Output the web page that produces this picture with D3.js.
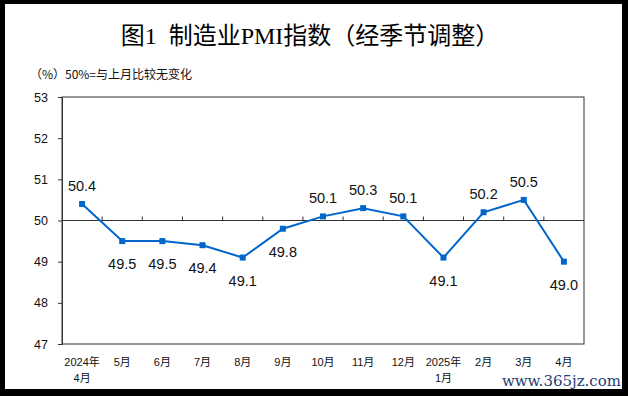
<!DOCTYPE html>
<html>
<head>
<meta charset="utf-8">
<script src="https://cdn.jsdelivr.net/npm/d3@7"></script>
<style>
  body { margin: 0; background: #000; }
  svg { display: block; }
</style>
</head>
<body>
<svg id="chart"></svg>
<script>
var months = ["2024年|4月", "5月", "6月", "7月", "8月", "9月", "10月", "11月", "12月", "2025年|1月", "2月", "3月", "4月"];
var pmiValues = [50.4, 49.5, 49.5, 49.4, 49.1, 49.8, 50.1, 50.3, 50.1, 49.1, 50.2, 50.5, 49.0];
var yTicks = [47, 48, 49, 50, 51, 52, 53];

var dimensions = {
  width: 628,
  height: 396,
  margin: { top: 97, bottom: 52, left: 62, right: 44 },
};

var svg = d3
  .select("#chart")
  .attr("width", dimensions.width)
  .attr("height", dimensions.height);

// black frame with white canvas inside
svg.append("rect")
  .attr("width", dimensions.width)
  .attr("height", dimensions.height)
  .attr("fill", "#000");
svg.append("rect")
  .attr("x", 5)
  .attr("y", 4)
  .attr("width", 617)
  .attr("height", 385)
  .attr("fill", "#fff");

var xScale = d3
  .scaleBand()
  .domain(months)
  .range([dimensions.margin.left, dimensions.width - dimensions.margin.right]);

var yScale = d3
  .scaleLinear()
  .domain([47, 53])
  .range([dimensions.height - dimensions.margin.bottom, dimensions.margin.top]);

var xCenter = (d) => xScale(d) + xScale.bandwidth() / 2;

// title
svg.append("text")
  .attr("x", 310)
  .attr("y", 44)
  .attr("text-anchor", "middle")
  .attr("font-family", "'Liberation Serif', 'Noto Sans CJK SC', serif")
  .attr("font-size", 24)
  .attr("fill", "#000")
  .text("图1\u2002制造业PMI指数（经季节调整）");

svg.append("text")
  .attr("x", 30)
  .attr("y", 79)
  .attr("font-family", "'Noto Sans CJK SC', sans-serif")
  .attr("font-size", 12)
  .attr("fill", "#111")
  .text("（%）");

svg.append("text")
  .attr("x", 65)
  .attr("y", 79)
  .attr("font-family", "'Liberation Sans Narrow', 'Noto Sans CJK SC', sans-serif")
  .attr("font-size", 12)
  .attr("fill", "#111")
  .text("50%=与上月比较无变化");

// plot frame
svg.append("rect")
  .attr("x", dimensions.margin.left)
  .attr("y", dimensions.margin.top)
  .attr("width", dimensions.width - dimensions.margin.left - dimensions.margin.right)
  .attr("height", dimensions.height - dimensions.margin.top - dimensions.margin.bottom)
  .attr("fill", "none")
  .attr("stroke", "#333")
  .attr("stroke-width", 1);

// y axis
var yAxisgen = d3.axisLeft(yScale).tickValues(yTicks).tickSize(4).tickPadding(10).tickFormat(d3.format("d"));
var yAxis = svg
  .append("g")
  .attr("transform", `translate(${dimensions.margin.left},0)`)
  .call(yAxisgen);
yAxis.select(".domain").attr("stroke", "#333");
yAxis.selectAll(".tick line").attr("stroke", "#333");
yAxis.selectAll(".tick text")
  .attr("font-family", "'Liberation Sans Narrow', 'Liberation Sans', sans-serif")
  .attr("font-size", 12.5)
  .attr("fill", "#111");

// 50 reference line with category boundary ticks
var midLine = svg.append("g").attr("transform", `translate(0,${yScale(50)})`);
midLine.append("line")
  .attr("x1", dimensions.margin.left)
  .attr("x2", dimensions.width - dimensions.margin.right)
  .attr("stroke", "#333");
midLine.selectAll(".bound")
  .data(months.slice(1))
  .enter()
  .append("line")
  .attr("class", "bound")
  .attr("x1", (d) => xScale(d))
  .attr("x2", (d) => xScale(d))
  .attr("y1", 0)
  .attr("y2", -4)
  .attr("stroke", "#333");

// x labels below plot
var xAxisgen = d3.axisBottom(xScale).tickSize(0).tickPadding(0);
var xAxis = svg
  .append("g")
  .attr("transform", `translate(0,${dimensions.height - dimensions.margin.bottom})`)
  .call(xAxisgen);
xAxis.select(".domain").remove();
xAxis.selectAll(".tick text").each(function (d) {
  var parts = d.split("|");
  var t = d3.select(this).text(null).attr("y", 0).attr("dy", null);
  parts.forEach(function (p, i) {
    t.append("tspan").attr("x", 0).attr("y", 22 + i * 16).text(p);
  });
});
xAxis.selectAll(".tick text")
  .attr("font-family", "'Liberation Sans', 'Noto Sans CJK SC', sans-serif")
  .attr("font-size", 11)
  .attr("fill", "#111");

// line
var lineGen = d3
  .line()
  .x((d, i) => xCenter(months[i]))
  .y((d) => yScale(d));

svg.append("path")
  .datum(pmiValues)
  .attr("d", lineGen)
  .attr("fill", "none")
  .attr("stroke", "#0066cc")
  .attr("stroke-width", 2);

var markerSize = 6;
svg.selectAll(".marker")
  .data(pmiValues)
  .enter()
  .append("rect")
  .attr("class", "marker")
  .attr("x", (d, i) => xCenter(months[i]) - markerSize / 2)
  .attr("y", (d) => yScale(d) - markerSize / 2)
  .attr("width", markerSize)
  .attr("height", markerSize)
  .attr("fill", "#0066cc");

svg.selectAll(".value-label")
  .data(pmiValues)
  .enter()
  .append("text")
  .attr("class", "value-label")
  .attr("x", (d, i) => xCenter(months[i]))
  .attr("y", (d) => (d > 50 ? yScale(d) - 13 : yScale(d) + 28))
  .attr("text-anchor", "middle")
  .attr("font-family", "'Liberation Sans', Arial, sans-serif")
  .attr("font-size", 14.5)
  .attr("fill", "#111")
  .text((d) => d.toFixed(1));

// watermark
svg.append("text")
  .attr("x", 621)
  .attr("y", 386)
  .attr("text-anchor", "end")
  .attr("font-family", "'DejaVu Serif', serif")
  .attr("font-size", 15)
  .attr("fill", "#1f3d73")
  .text("www.365jz.com");
</script>
</body>
</html>
